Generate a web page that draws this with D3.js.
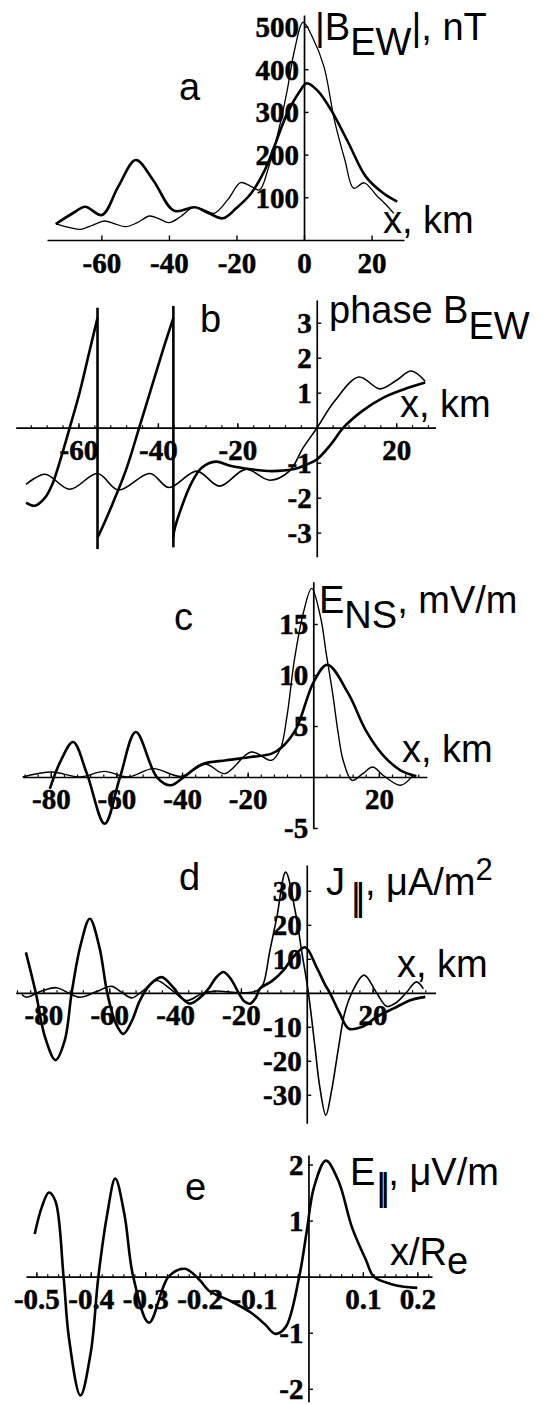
<!DOCTYPE html>
<html>
<head>
<meta charset="utf-8">
<script src="https://cdn.jsdelivr.net/npm/d3@7"></script>
<style>
  body { margin: 0; background: #fff; }
  svg { display: block; }
</style>
</head>
<body>
<script>
// ---- values ----

// a: |B_EW|, nT vs x, km
const aThickX = [-73.5, -68, -64.8, -59.8, -55, -49.8, -44.7, -38.5, -32.3, -28, -24, -20, -15.7, -11.6, -8.5, -5.4, -1.3, 0.8, 4, 8, 13.2, 18.3, 23.5, 27.6]
const aThickY = [37.5, 65, 78, 58.6, 125, 187.5, 140.6, 68.7, 76.6, 62, 50.8, 75, 109, 164, 225, 289, 347.6, 367, 350, 304.7, 226.6, 148.4, 109.4, 89.8]
const aThinX = [-73.5, -70, -66.3, -62.5, -59.1, -56, -52.9, -49.5, -45.7, -43, -40, -36.5, -32.8, -29.5, -26.6, -22.5, -18.8, -16, -13.2, -10.5, -7.5, -5, -2.8, -0.3, 2.5, 5.9, 9, 12.1, 14.7, 17.8, 21.4, 24, 26.6]
const aThinY = [37.5, 30, 25, 35, 44.5, 38, 31.2, 40, 56.2, 50, 40.6, 55, 76.6, 70, 62.5, 95, 134.3, 127, 117.2, 170, 257.8, 350, 445, 510, 475, 406, 281, 187.5, 121, 134, 105, 85, 62.5]
const aXTicks = [-60, -40, -20, 0, 20]
const aYTicks = [100, 200, 300, 400, 500]

// b: phase B_EW
const bThinX = [-73.2, -68.4, -62.2, -55.2, -49.9, -42, -37.2, -30.2, -24.5, -17.9, -11.8, -6.9, -3.4, 0.1, 4.5, 10.6, 15.9, 20, 23.8, 27.3]
const bThinY = [-1.62, -1.33, -1.76, -1.31, -1.78, -1.31, -1.71, -1.24, -1.67, -1.19, -1.5, -1.24, -0.57, 0, 0.76, 1.45, 1.11, 1.35, 1.62, 1.33]
const bPhase1X = [-73.2, -71, -68.4, -66.6, -64.4, -62.2, -59.6, -57.4, -55.2]
const bPhase1Y = [-2.14, -2.23, -2.0, -1.62, -0.86, 0, 1.05, 2.1, 3.14]
const bPhase2X = [-55.2, -54.8, -51.5, -48, -44.7, -41.2, -38.5, -36.1]
const bPhase2Y = [-3.14, -3.05, -2.2, -1.2, 0, 1.3, 2.3, 3.14]
const bPhase3X = [-36.1, -35.9, -34.1, -31.5, -28.9, -25.4, -21.8, -16.6, -11.3, -6, -2.5, 0.1, 3.6, 6.7, 11.5, 16.8, 22, 27.3]
const bPhase3Y = [-3.14, -2.95, -2.29, -1.57, -1.14, -0.97, -1.09, -1.19, -1.24, -1.19, -1.05, -0.9, -0.47, 0, 0.48, 0.86, 1.1, 1.29]
const bJumpX = [-55.2, -36.1]
const bJumpTop = [3.43, 3.48]
const bJumpBottom = [-3.47, -3.42]
const bXTicks = [-60, -40, -20, 20]
const bYTicks = [-3, -2, -1, 1, 2, 3]

// c: E_NS, mV/m
const cThickX = [-80.3, -76.9, -73.2, -69, -63.6, -58.9, -54.1, -47.7, -43.5, -39.2, -33.9, -26.5, -19, -12.7, -9.5, -5.2, 0.1, 4.3, 10.7, 16, 21.3, 26.6, 31.4]
const cThickY = [-1.15, 1.64, 3.43, 0.33, -4.58, 0, 4.41, 0, -0.81, 0.07, 1.25, 1.64, 1.96, 2.29, 2.94, 4.74, 9.31, 11, 8.17, 4.58, 2.13, 0.65, 0.07]
const cThinX = [-88.6, -79.6, -71.1, -63.7, -56.5, -48.8, -40.3, -32.8, -27, -19, -12.7, -10, -8, -5.8, -3.1, -0.5, 2.2, 4, 5.9, 7.5, 9.1, 11.8, 15, 18.1, 21.3, 26.6, 30.4]
const cThinY = [0, 0.49, 0, 0.55, 0, 0.82, 0.07, 1.25, 0.33, 2.45, 1.64, 2.78, 6, 11.4, 16, 18.5, 15.7, 12, 8.2, 4.5, 1.64, -0.33, 0.3, 0.98, 0.16, -0.81, 0.16]
const cXTicks = [-80, -60, -40, -20, 20]
const cYTicks = [-5, 5, 10, 15]

// d: J_||, uA/m^2
const dThickX = [-85.3, -82.3, -79.5, -76.3, -73.5, -71.4, -68.7, -65.9, -63, -60.6, -58, -55.7, -53, -50.7, -47.5, -44.1, -40.5, -38, -35.5, -32.5, -30, -27.5, -25.3, -23, -21, -19, -17.2, -15.5, -14.2, -10.5, -7.1, -4.1, -0.5, 3, 5.5, 7, 10, 12.7, 16.9, 21.2, 26.4, 31.7, 36]
const dThickY = [11.9, 0, -13, -19.8, -14, 0, 14, 21.8, 13.5, 0, -9, -12.1, -8, -2.3, 2.5, 4.6, 1.5, -1.5, -3.2, -1.5, 1, 4.5, 6.1, 4, 0.5, -2.5, -3.2, -1.5, 1.2, 3.5, 6.6, 10.5, 13.4, 7.5, 2.5, 0, -6, -10.5, -10, -7.1, -4.6, -2.1, -1.2]
const dThinX = [-86.5, -85.2, -80.5, -76, -72.5, -68.9, -64, -59.3, -56, -53.2, -49.5, -45.6, -41, -36.5, -32, -28, -24, -20, -16, -14.5, -13.2, -11.2, -9.1, -6.4, -3.5, -1.5, 0.5, 2.5, 4, 5.8, 7.5, 9.5, 11.5, 13.7, 17.4, 21.2, 24.3, 27, 30.2, 33.3, 35.4]
const dThinY = [-0.5, -1.3, 0.5, 1.5, 0, -1.3, 0.3, 1.9, 0, -1.5, 0.8, 3.6, 0.8, -2.3, -0.3, 0.5, 0.3, 0, 0.3, 1, 2.6, 12.4, 22.2, 35.5, 24, 12, 0, -16, -28, -36, -29, -17, -6, 0, 5.2, 0, -4, -3, 0, 3.2, 1.2]
const dXTicks = [-80, -60, -40, -20, 20]
const dYTicks = [-30, -20, -10, 10, 20, 30]

// e: E_||, uV/m vs x/Re
const eX = [-0.503, -0.49, -0.477, -0.465, -0.45, -0.44, -0.419, -0.4, -0.386, -0.37, -0.355, -0.338, -0.322, -0.293, -0.257, -0.227, -0.2, -0.183, -0.144, -0.106, -0.08, -0.061, -0.042, -0.017, -0.003, 0.01, 0.032, 0.055, 0.08, 0.106, 0.12, 0.151, 0.175, 0.2]
const eY = [0.76, 1.24, 1.5, 1.35, 0, -1.1, -2.12, -1.35, 0, 1.1, 1.75, 1.1, 0, -0.82, 0, 0.14, -0.06, -0.25, -0.43, -0.64, -0.85, -1.02, -0.9, 0, 0.82, 1.59, 2.07, 1.71, 0.88, 0.29, 0, -0.13, -0.18, -0.2]
const eXTicks = [-0.5, -0.4, -0.3, -0.2, -0.1, 0.1, 0.2]
const eYTicks = [-2, -1, 1, 2]

// ---- drawing ----

const sans = '"Liberation Sans", Arial, Helvetica, sans-serif'
const serif = '"Liberation Serif", "Times New Roman", Times, serif'

const svg = d3.select('body').append('svg')
  .attr('width', 546)
  .attr('height', 1404)
  .style('background', '#fff')

function label (g, x, y, parts, size) {
  const t = g.append('text')
    .attr('x', x)
    .attr('y', y)
    .attr('font-family', sans)
    .attr('font-size', size || 38)
    .attr('fill', '#000')
  parts.forEach(p => {
    const s = t.append('tspan').text(p.t)
    if (p.dy) s.attr('dy', p.dy)
    if (p.dx) s.attr('dx', p.dx)
    if (p.ls) s.attr('letter-spacing', p.ls)
    if (p.fs) s.attr('font-size', p.fs)
  })
}

// bold Times-like tick numbers, a touch heavier like the printed figure
function tickFont (sel) {
  sel.attr('font-family', serif)
    .attr('font-size', 29)
    .attr('font-weight', 'bold')
  sel.selectAll('.tick text')
    .attr('stroke', '#000')
    .attr('stroke-width', 0.5)
}

function panel (p) {
  const x = d3.scaleLinear().domain(p.xDomain).range(p.xRange)
  const y = d3.scaleLinear().domain(p.yDomain).range(p.yRange)
  const g = svg.append('g')

  if (p.minor) {
    const lo = Math.ceil(p.xDomain[0] / p.minor) * p.minor
    g.append('g')
      .attr('transform', 'translate(0,' + y(0) + ')')
      .call(d3.axisBottom(x).tickValues(d3.range(lo, p.xDomain[1], p.minor)).tickSize(-2.5).tickFormat(''))
      .call(s => s.select('.domain').remove())
      .selectAll('line').attr('stroke-width', 1.2)
  }

  const xg = g.append('g')
    .attr('transform', 'translate(0,' + y(0) + ')')
    .call(d3.axisBottom(x).tickValues(p.xTicks).tickSize(-4.5).tickSizeOuter(0).tickFormat(d => String(d)))
    .call(tickFont)
  xg.select('.domain').attr('stroke-width', 1.7)
  xg.selectAll('.tick line').attr('stroke-width', 1.4)
  xg.selectAll('.tick text').attr('y', p.xLabelOffset).attr('dy', null)

  const yg = g.append('g')
    .attr('transform', 'translate(' + x(0) + ',0)')
    .call(d3.axisLeft(y).tickValues(p.yTicks).tickSize(-4.5).tickSizeOuter(0).tickFormat(d => String(d)))
    .call(tickFont)
  yg.select('.domain').attr('stroke-width', 1.7)
  yg.selectAll('.tick line').attr('stroke-width', 1.4)
  yg.selectAll('.tick text').attr('x', -5).attr('dy', '0.34em')

  const line = d3.line()
    .x(d => x(d[0]))
    .y(d => y(d[1]))
    .curve(d3.curveCatmullRom.alpha(0.5))

  p.curves.forEach(c => {
    g.append('path')
      .datum(d3.zip(c.x, c.y))
      .attr('d', line)
      .attr('fill', 'none')
      .attr('stroke', '#000')
      .attr('stroke-width', c.w)
      .attr('stroke-linejoin', 'round')
  })

  if (p.jumps) {
    const straight = d3.line().x(d => x(d[0])).y(d => y(d[1]))
    p.jumps.x.forEach((jx, i) => {
      g.append('path')
        .attr('d', straight([[jx, p.jumps.top[i]], [jx, p.jumps.bottom[i]]]))
        .attr('stroke', '#000')
        .attr('stroke-width', 2.6)
    })
  }

  label(g, p.letter[1], p.letter[2], [{ t: p.letter[0] }])
  label(g, p.title.x, p.title.y, p.title.parts)
  label(g, p.xName.x, p.xName.y, p.xName.parts)
}

const panels = [
  {
    xDomain: [-76.1, 29.6], xRange: [47, 404],
    yDomain: [0, 527], yRange: [240, 15],
    xTicks: aXTicks, yTicks: aYTicks, xLabelOffset: 33,
    curves: [{ x: aThinX, y: aThinY, w: 1.3 }, { x: aThickX, y: aThickY, w: 2.6 }],
    letter: ['a', 179, 100],
    title: { x: 315, y: 40, parts: [{ t: '|B' }, { t: 'EW', dy: 15 }, { t: '|, nT', dy: -15 }] },
    xName: { x: 383, y: 233, parts: [{ t: 'x, km' }] }
  },
  {
    xDomain: [-75.8, 29.9], xRange: [15.7, 435.5],
    yDomain: [-3.69, 3.65], yRange: [556.8, 300],
    xTicks: bXTicks, yTicks: bYTicks, xLabelOffset: 32, minor: 4,
    curves: [
      { x: bThinX, y: bThinY, w: 1.6 },
      { x: bPhase1X, y: bPhase1Y, w: 2.6 },
      { x: bPhase2X, y: bPhase2Y, w: 2.6 },
      { x: bPhase3X, y: bPhase3Y, w: 2.6 }
    ],
    jumps: { x: bJumpX, top: bJumpTop, bottom: bJumpBottom },
    letter: ['b', 200, 332],
    title: { x: 329, y: 323, parts: [{ t: 'phase B' }, { t: 'EW', dy: 16 }] },
    xName: { x: 400, y: 417, parts: [{ t: 'x, km' }] }
  },
  {
    xDomain: [-88.6, 34.6], xRange: [22.6, 426.8],
    yDomain: [-5, 19.15], yRange: [828, 581.7],
    xTicks: cXTicks, yTicks: cYTicks, xLabelOffset: 32, minor: 4,
    curves: [{ x: cThinX, y: cThinY, w: 1.4 }, { x: cThickX, y: cThickY, w: 2.6 }],
    letter: ['c', 174, 630],
    title: { x: 319, y: 613, parts: [{ t: 'E' }, { t: 'NS', dy: 15 }, { t: ', mV/m', dy: -15 }] },
    xName: { x: 402, y: 762, parts: [{ t: 'x, km' }] }
  },
  {
    xDomain: [-88.4, 39.1], xRange: [15.7, 435.5],
    yDomain: [-38.4, 37.6], yRange: [1123.3, 865],
    xTicks: dXTicks, yTicks: dYTicks, xLabelOffset: 32, minor: 4,
    curves: [{ x: dThinX, y: dThinY, w: 1.6 }, { x: dThickX, y: dThickY, w: 2.6 }],
    letter: ['d', 179, 890],
    title: {
      x: 326, y: 895,
      parts: [{ t: 'J' }, { t: '||', dy: 15, dx: 6, ls: -5.4 }, { t: ', μA/m', dy: -15, dx: 5 }, { t: '2', dy: -15, fs: 31 }]
    },
    xName: { x: 397, y: 977, parts: [{ t: 'x, km' }] }
  },
  {
    xDomain: [-0.519, 0.227], xRange: [26, 432],
    yDomain: [-2.23, 2.17], yRange: [1401.7, 1155],
    xTicks: eXTicks, yTicks: eYTicks, xLabelOffset: 32, minor: 0.02,
    curves: [{ x: eX, y: eY, w: 2.6 }],
    letter: ['e', 185, 1200],
    title: {
      x: 350, y: 1185,
      parts: [{ t: 'E' }, { t: '||', dy: 15, dx: 1, ls: -5.9 }, { t: ', μV/m', dy: -15, dx: 4 }]
    },
    xName: { x: 390, y: 1265, parts: [{ t: 'x/R' }, { t: 'e', dy: 9 }] }
  }
]

panels.forEach(panel)
</script>
</body>
</html>
